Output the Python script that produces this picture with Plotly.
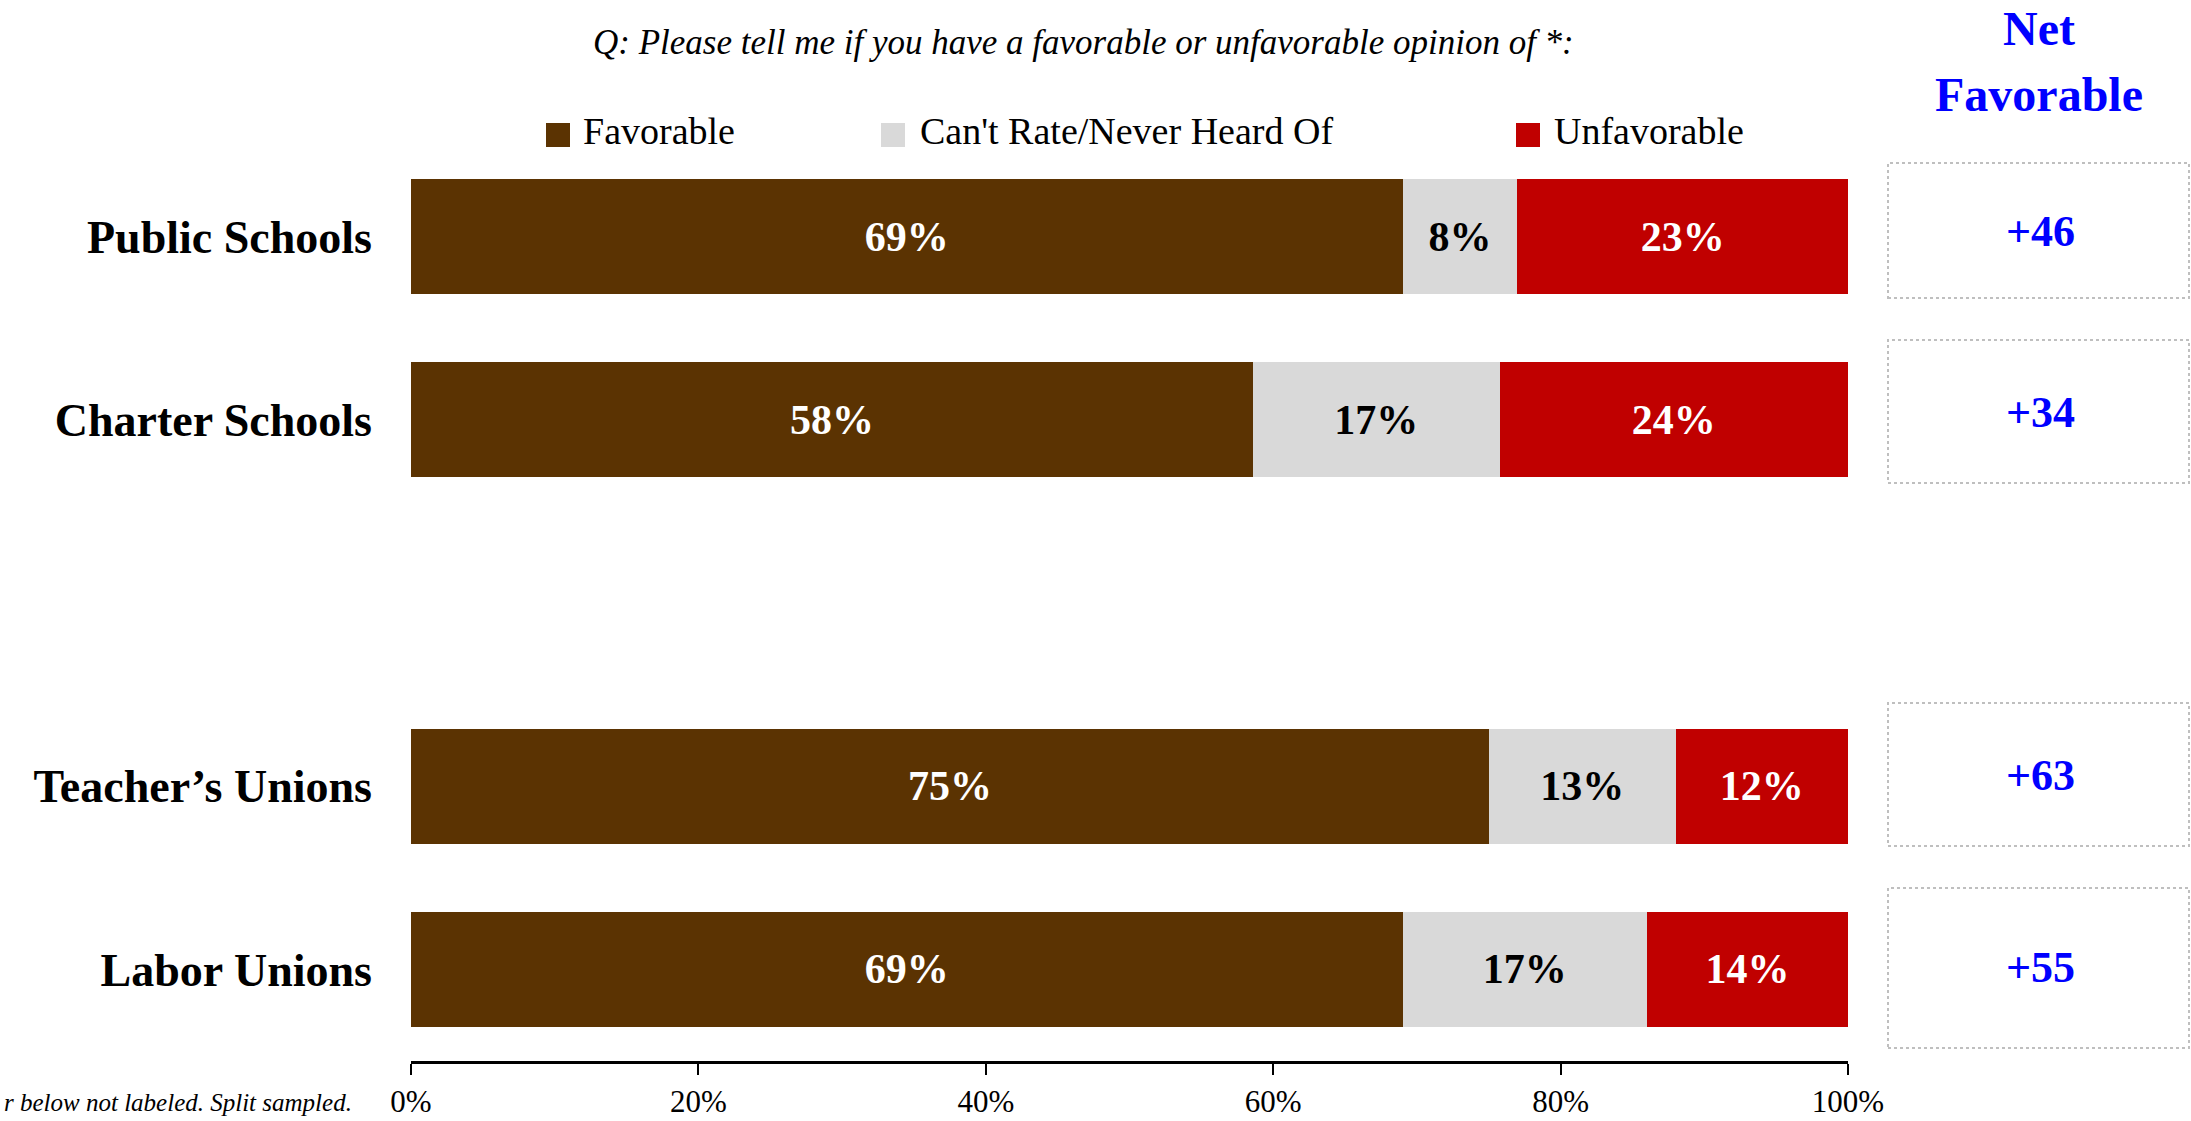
import plotly.graph_objects as go

# ---------------- data ----------------
categories = ["Public Schools", "Charter Schools", " ", "Teacher’s Unions", "Labor Unions"]
favorable = [69, 58, None, 75, 69]
cant_rate = [8, 17, None, 13, 17]
unfavorable = [23, 24, None, 12, 14]
net_labels = ["Public Schools", "Charter Schools", "Teacher’s Unions", "Labor Unions"]
net_values = [46, 34, 63, 55]
series_names = ["Favorable", "Can't Rate/Never Heard Of", "Unfavorable"]
tick_vals = [0, 20, 40, 60, 80, 100]
tick_text = ["0%", "20%", "40%", "60%", "80%", "100%"]
title_text = "Q: Please tell me if you have a favorable or unfavorable opinion of *:"
footnote_text = "r below not labeled. Split sampled."

# ---------------- style ----------------
W, H = 2191, 1121
PL, PR, PT, PB = 411, 1848, 145, 1061
FONT = "Liberation Serif"
colors = ["#5B3302", "#D9D9D9", "#C00000"]
text_colors = ["white", "black", "white"]


def px_x(p):
    return (p - PL) / (PR - PL)


def px_y(p):
    return (PB - p) / (PB - PT)


fig = go.Figure()
for name, vals, col, tcol in zip(series_names, [favorable, cant_rate, unfavorable], colors, text_colors):
    fig.add_trace(go.Bar(
        orientation="h",
        y=categories,
        x=vals,
        name=name,
        marker=dict(color=col, line=dict(width=0)),
        text=[f"{v}%" if v is not None else "" for v in vals],
        textposition="inside",
        insidetextanchor="middle",
        textfont=dict(family=FONT, size=42, color=tcol, weight="bold"),
        constraintext="none",
        showlegend=False,
        hoverinfo="skip",
    ))

shapes = []
annotations = []

# title
annotations.append(dict(text=f"<i>{title_text}</i>", x=px_x(1083), y=px_y(43), xref="paper", yref="paper",
                        xanchor="center", yanchor="middle", showarrow=False,
                        font=dict(family=FONT, size=35, color="black")))

# manual legend
leg_sq_x = [546, 881, 1516]
leg_tx_x = [581, 918, 1552]
for name, col, sx, tx in zip(series_names, colors, leg_sq_x, leg_tx_x):
    shapes.append(dict(type="rect", xref="paper", yref="paper",
                       x0=px_x(sx), x1=px_x(sx + 24), y0=px_y(147), y1=px_y(123),
                       fillcolor=col, line=dict(width=0)))
    annotations.append(dict(text=name, x=px_x(tx), y=px_y(131), xref="paper", yref="paper",
                            xanchor="left", yanchor="middle", showarrow=False,
                            font=dict(family=FONT, size=38, color="black")))

# Net Favorable header
annotations.append(dict(text="<b>Net</b>", x=px_x(2039), y=px_y(28), xref="paper", yref="paper",
                        xanchor="center", yanchor="middle", showarrow=False,
                        font=dict(family=FONT, size=48, color="#0000FF")))
annotations.append(dict(text="<b>Favorable</b>", x=px_x(2039), y=px_y(95), xref="paper", yref="paper",
                        xanchor="center", yanchor="middle", showarrow=False,
                        font=dict(family=FONT, size=48, color="#0000FF")))

# Net favorable boxes and values
box_tops = [163, 340, 703, 888]
box_bottoms = [298, 483, 846, 1048]
value_centers = [231, 412, 775, 967]
for v, t, b, c in zip(net_values, box_tops, box_bottoms, value_centers):
    shapes.append(dict(type="rect", xref="paper", yref="paper",
                       x0=px_x(1888), x1=px_x(2189), y0=px_y(b), y1=px_y(t),
                       line=dict(color="#BFBFBF", width=2, dash="dot"), fillcolor="rgba(0,0,0,0)"))
    annotations.append(dict(text=f"<b>+{v}</b>", x=px_x(2040), y=px_y(c), xref="paper", yref="paper",
                            xanchor="center", yanchor="middle", showarrow=False,
                            font=dict(family=FONT, size=44, color="#0000FF")))

# footnote
annotations.append(dict(text=f"<i>{footnote_text}</i>", x=px_x(2), y=px_y(1102), xref="paper", yref="paper",
                        xanchor="left", yanchor="middle", showarrow=False,
                        font=dict(family=FONT, size=25, color="black")))

fig.update_layout(
    width=W, height=H,
    margin=dict(l=PL, r=W - PR, t=PT, b=H - PB, pad=0, autoexpand=False),
    paper_bgcolor="white", plot_bgcolor="white",
    barmode="stack", barnorm="percent", bargap=0.373,
    shapes=shapes, annotations=annotations,
    xaxis=dict(range=[0, 100], tickvals=tick_vals, ticktext=tick_text,
               showline=True, linecolor="black", linewidth=3,
               ticks="outside", ticklen=11, tickwidth=1.5, tickcolor="black",
               automargin=False,
               showgrid=False, zeroline=False,
               tickfont=dict(family=FONT, size=31, color="black")),
    yaxis=dict(categoryorder="array", categoryarray=categories, autorange="reversed",
               showline=False, ticks="", showgrid=False, zeroline=False,
               ticklabelstandoff=38, automargin=False,
               tickfont=dict(family=FONT, size=46, color="black", weight="bold")),
    hovermode=False,
)

fig.write_html("out.html", config={"displayModeBar": False})

# remove the default page margin so the figure sits at the window's top-left corner
with open("out.html", "r", encoding="utf-8") as f:
    html = f.read()
html = html.replace("<head>", "<head><style>html,body{margin:0;padding:0;overflow:hidden;}</style>", 1)
with open("out.html", "w", encoding="utf-8") as f:
    f.write(html)
